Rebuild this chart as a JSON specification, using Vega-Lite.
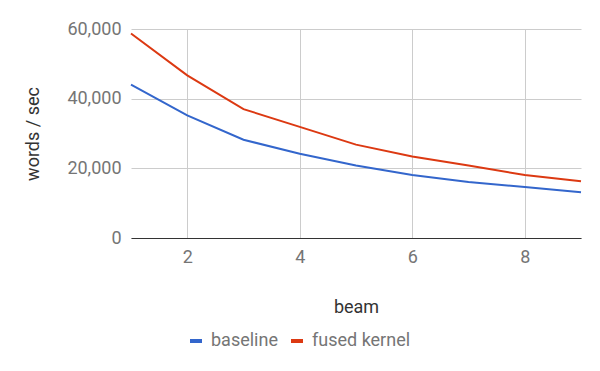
{
  "$schema": "https://vega.github.io/schema/vega-lite/v6.json",
  "width": 450,
  "height": 209,
  "autosize": "none",
  "padding": {"left": 131, "top": 29, "right": 19, "bottom": 133},
  "background": "white",
  "config": {
    "font": "Roboto",
    "view": {"stroke": null}
  },
  "data": {
    "values": [
      {"beam": 1, "series": "baseline", "wps": 44000},
      {"beam": 2, "series": "baseline", "wps": 35200},
      {"beam": 3, "series": "baseline", "wps": 28200},
      {"beam": 4, "series": "baseline", "wps": 24200},
      {"beam": 5, "series": "baseline", "wps": 20800},
      {"beam": 6, "series": "baseline", "wps": 18100},
      {"beam": 7, "series": "baseline", "wps": 16100},
      {"beam": 8, "series": "baseline", "wps": 14650},
      {"beam": 9, "series": "baseline", "wps": 13100},
      {"beam": 1, "series": "fused kernel", "wps": 58700},
      {"beam": 2, "series": "fused kernel", "wps": 46700},
      {"beam": 3, "series": "fused kernel", "wps": 37000},
      {"beam": 4, "series": "fused kernel", "wps": 31900},
      {"beam": 5, "series": "fused kernel", "wps": 26800},
      {"beam": 6, "series": "fused kernel", "wps": 23400},
      {"beam": 7, "series": "fused kernel", "wps": 20800},
      {"beam": 8, "series": "fused kernel", "wps": 18100},
      {"beam": 9, "series": "fused kernel", "wps": 16300}
    ]
  },
  "mark": {"type": "line", "strokeWidth": 2},
  "encoding": {
    "x": {
      "field": "beam",
      "type": "quantitative",
      "title": "beam",
      "scale": {"domain": [1, 9], "nice": false, "zero": false},
      "axis": {
        "values": [2, 4, 6, 8],
        "grid": true,
        "gridColor": "#cccccc",
        "domain": true,
        "domainColor": "#333333",
        "domainWidth": 1,
        "ticks": false,
        "labelPadding": 10,
        "labelFontSize": 18,
        "labelColor": "#757575",
        "titleFontSize": 18,
        "titleFontWeight": "normal",
        "titleColor": "#333333",
        "titlePadding": 32
      }
    },
    "y": {
      "field": "wps",
      "type": "quantitative",
      "title": "words / sec",
      "scale": {"domain": [0, 60000], "nice": false},
      "axis": {
        "values": [0, 20000, 40000, 60000],
        "format": ",.0f",
        "grid": true,
        "gridColor": "#cccccc",
        "domain": false,
        "ticks": false,
        "labelPadding": 10,
        "labelFontSize": 18,
        "labelColor": "#757575",
        "titleFontSize": 18,
        "titleFontWeight": "normal",
        "titleColor": "#333333",
        "titlePadding": 24
      }
    },
    "color": {
      "field": "series",
      "type": "nominal",
      "scale": {"domain": ["baseline", "fused kernel"], "range": ["#3366cc", "#dc3912"]},
      "legend": {
        "title": null,
        "orient": "none",
        "legendX": 56,
        "legendY": 303,
        "direction": "horizontal",
        "symbolType": "stroke",
        "symbolStrokeWidth": 4,
        "symbolSize": 144,
        "labelFontSize": 18,
        "labelColor": "#757575",
        "labelOffset": 6,
        "columnPadding": 5
      }
    }
  }
}
